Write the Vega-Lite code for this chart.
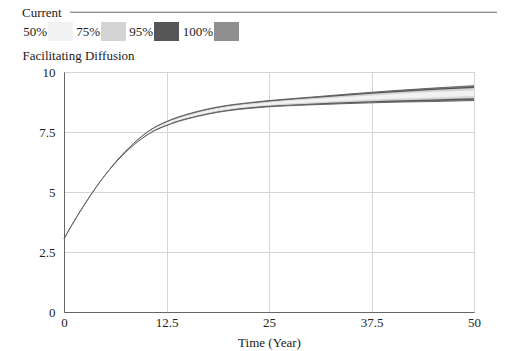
{
  "$schema": "https://vega.github.io/schema/vega-lite/v6.json",
  "width": 410,
  "height": 240,
  "autosize": "none",
  "padding": {"left": 64, "top": 72, "right": 31, "bottom": 39},
  "background": "white",
  "title": {"text": "Current", "anchor": "start", "frame": "group", "font": "Liberation Serif", "fontSize": 13, "fontWeight": "normal", "color": "#222", "dx": -42, "offset": -8},
  "config": {
    "font": "Liberation Serif",
    "view": {"stroke": "#666", "strokeWidth": 1},
    "axis": {
      "labelFont": "Liberation Serif", "labelFontSize": 13, "labelColor": "#222",
      "titleFont": "Liberation Serif", "titleFontSize": 13, "titleColor": "#222", "titleFontWeight": "normal",
      "ticks": false, "domainColor": "#666", "gridColor": "#d6d6d6", "gridWidth": 1
    },
    "legend": {
      "orient": "none", "legendX": -16, "legendY": -53, "direction": "horizontal",
      "labelFont": "Liberation Serif", "labelFontSize": 13, "labelColor": "#222", "labelAlign": "right", "labelOffset": -26,
      "symbolType": "M-1,-0.76H1V0.76H-1Z", "symbolSize": 625, "symbolStrokeWidth": 0, "symbolOpacity": 1,
      "columnPadding": 3
    }
  },
  "datasets": {
    "bands": [
      {"t":0,"b":"100%","lo":3.05,"hi":3.05},{"t":0,"b":"95%","lo":3.05,"hi":3.05},{"t":0,"b":"75%","lo":3.05,"hi":3.05},{"t":0,"b":"50%","lo":3.05,"hi":3.05},
      {"t":1,"b":"100%","lo":3.65,"hi":3.65},{"t":1,"b":"95%","lo":3.65,"hi":3.65},{"t":1,"b":"75%","lo":3.65,"hi":3.65},{"t":1,"b":"50%","lo":3.65,"hi":3.65},
      {"t":2,"b":"100%","lo":4.21,"hi":4.21},{"t":2,"b":"95%","lo":4.21,"hi":4.21},{"t":2,"b":"75%","lo":4.21,"hi":4.21},{"t":2,"b":"50%","lo":4.21,"hi":4.21},
      {"t":3,"b":"100%","lo":4.74,"hi":4.74},{"t":3,"b":"95%","lo":4.74,"hi":4.74},{"t":3,"b":"75%","lo":4.74,"hi":4.74},{"t":3,"b":"50%","lo":4.74,"hi":4.74},
      {"t":4,"b":"100%","lo":5.24,"hi":5.24},{"t":4,"b":"95%","lo":5.24,"hi":5.24},{"t":4,"b":"75%","lo":5.24,"hi":5.24},{"t":4,"b":"50%","lo":5.24,"hi":5.24},
      {"t":5,"b":"100%","lo":5.7,"hi":5.7},{"t":5,"b":"95%","lo":5.7,"hi":5.7},{"t":5,"b":"75%","lo":5.7,"hi":5.7},{"t":5,"b":"50%","lo":5.7,"hi":5.7},
      {"t":6,"b":"100%","lo":6.11,"hi":6.13},{"t":6,"b":"95%","lo":6.111,"hi":6.129},{"t":6,"b":"75%","lo":6.113,"hi":6.127},{"t":6,"b":"50%","lo":6.116,"hi":6.124},
      {"t":7,"b":"100%","lo":6.48,"hi":6.52},{"t":7,"b":"95%","lo":6.482,"hi":6.518},{"t":7,"b":"75%","lo":6.486,"hi":6.514},{"t":7,"b":"50%","lo":6.492,"hi":6.508},
      {"t":8,"b":"100%","lo":6.81,"hi":6.87},{"t":8,"b":"95%","lo":6.813,"hi":6.867},{"t":8,"b":"75%","lo":6.819,"hi":6.861},{"t":8,"b":"50%","lo":6.828,"hi":6.852},
      {"t":9,"b":"100%","lo":7.095,"hi":7.185},{"t":9,"b":"95%","lo":7.1,"hi":7.18},{"t":9,"b":"75%","lo":7.109,"hi":7.171},{"t":9,"b":"50%","lo":7.122,"hi":7.158},
      {"t":10,"b":"100%","lo":7.34,"hi":7.46},{"t":10,"b":"95%","lo":7.346,"hi":7.454},{"t":10,"b":"75%","lo":7.358,"hi":7.442},{"t":10,"b":"50%","lo":7.376,"hi":7.424},
      {"t":11,"b":"100%","lo":7.55,"hi":7.69},{"t":11,"b":"95%","lo":7.557,"hi":7.683},{"t":11,"b":"75%","lo":7.571,"hi":7.669},{"t":11,"b":"50%","lo":7.592,"hi":7.648},
      {"t":12,"b":"100%","lo":7.7,"hi":7.86},{"t":12,"b":"95%","lo":7.708,"hi":7.852},{"t":12,"b":"75%","lo":7.724,"hi":7.836},{"t":12,"b":"50%","lo":7.748,"hi":7.812},
      {"t":13,"b":"100%","lo":7.83,"hi":8.01},{"t":13,"b":"95%","lo":7.839,"hi":8.001},{"t":13,"b":"75%","lo":7.857,"hi":7.983},{"t":13,"b":"50%","lo":7.884,"hi":7.956},
      {"t":14,"b":"100%","lo":7.945,"hi":8.135},{"t":14,"b":"95%","lo":7.955,"hi":8.125},{"t":14,"b":"75%","lo":7.974,"hi":8.106},{"t":14,"b":"50%","lo":8.002,"hi":8.078},
      {"t":15,"b":"100%","lo":8.04,"hi":8.24},{"t":15,"b":"95%","lo":8.05,"hi":8.23},{"t":15,"b":"75%","lo":8.07,"hi":8.21},{"t":15,"b":"50%","lo":8.1,"hi":8.18},
      {"t":17.5,"b":"100%","lo":8.24,"hi":8.46},{"t":17.5,"b":"95%","lo":8.251,"hi":8.449},{"t":17.5,"b":"75%","lo":8.273,"hi":8.427},{"t":17.5,"b":"50%","lo":8.306,"hi":8.394},
      {"t":20,"b":"100%","lo":8.385,"hi":8.615},{"t":20,"b":"95%","lo":8.397,"hi":8.603},{"t":20,"b":"75%","lo":8.42,"hi":8.58},{"t":20,"b":"50%","lo":8.454,"hi":8.546},
      {"t":22.5,"b":"100%","lo":8.48,"hi":8.72},{"t":22.5,"b":"95%","lo":8.492,"hi":8.708},{"t":22.5,"b":"75%","lo":8.516,"hi":8.684},{"t":22.5,"b":"50%","lo":8.552,"hi":8.648},
      {"t":25,"b":"100%","lo":8.55,"hi":8.81},{"t":25,"b":"95%","lo":8.563,"hi":8.797},{"t":25,"b":"75%","lo":8.589,"hi":8.771},{"t":25,"b":"50%","lo":8.628,"hi":8.732},
      {"t":30,"b":"100%","lo":8.63,"hi":8.95},{"t":30,"b":"95%","lo":8.646,"hi":8.934},{"t":30,"b":"75%","lo":8.678,"hi":8.902},{"t":30,"b":"50%","lo":8.726,"hi":8.854},
      {"t":35,"b":"100%","lo":8.69,"hi":9.09},{"t":35,"b":"95%","lo":8.71,"hi":9.07},{"t":35,"b":"75%","lo":8.75,"hi":9.03},{"t":35,"b":"50%","lo":8.81,"hi":8.97},
      {"t":40,"b":"100%","lo":8.74,"hi":9.22},{"t":40,"b":"95%","lo":8.764,"hi":9.196},{"t":40,"b":"75%","lo":8.812,"hi":9.148},{"t":40,"b":"50%","lo":8.884,"hi":9.076},
      {"t":45,"b":"100%","lo":8.77,"hi":9.33},{"t":45,"b":"95%","lo":8.798,"hi":9.302},{"t":45,"b":"75%","lo":8.854,"hi":9.246},{"t":45,"b":"50%","lo":8.938,"hi":9.162},
      {"t":50,"b":"100%","lo":8.81,"hi":9.43},{"t":50,"b":"95%","lo":8.841,"hi":9.399},{"t":50,"b":"75%","lo":8.903,"hi":9.337},{"t":50,"b":"50%","lo":8.996,"hi":9.244}
    ]
  },
  "layer": [
    {
      "data": {"name": "bands"},
      "encoding": {
        "x": {"field": "t", "type": "quantitative",
          "scale": {"domain": [0, 50], "nice": false, "zero": false},
          "axis": {"values": [0, 12.5, 25, 37.5, 50], "format": ".1~f", "title": "Time (Year)", "labelPadding": 4, "labelFlush": false,
            "titleY": 34, "titleBaseline": "alphabetic"}},
        "y": {"field": "lo", "type": "quantitative",
          "scale": {"domain": [0, 10], "nice": false, "zero": false},
          "axis": {"values": [0, 2.5, 5, 7.5, 10], "format": ".1~f", "title": "Facilitating Diffusion", "labelPadding": 9,
            "titleAngle": 0, "titleAlign": "left", "titleBaseline": "alphabetic", "titleX": -42, "titleY": -13}}
      },
      "layer": [
        {"transform": [{"filter": "datum.b === '100%'"}],
         "mark": {"type": "area", "interpolate": "monotone", "opacity": 1},
         "encoding": {"y2": {"field": "hi"},
           "color": {"field": "b", "type": "nominal", "title": null,
             "scale": {"domain": ["50%", "75%", "95%", "100%"], "range": ["#f2f2f2", "#d4d4d4", "#565656", "#8f8f8f"]}}}},
        {"transform": [{"filter": "datum.b === '95%'"}],
         "mark": {"type": "area", "interpolate": "monotone", "opacity": 1},
         "encoding": {"y2": {"field": "hi"}, "color": {"field": "b", "type": "nominal", "title": null}}},
        {"transform": [{"filter": "datum.b === '75%'"}],
         "mark": {"type": "area", "interpolate": "monotone", "opacity": 1},
         "encoding": {"y2": {"field": "hi"}, "color": {"field": "b", "type": "nominal", "title": null}}},
        {"transform": [{"filter": "datum.b === '50%'"}],
         "mark": {"type": "area", "interpolate": "monotone", "opacity": 1},
         "encoding": {"y2": {"field": "hi"}, "color": {"field": "b", "type": "nominal", "title": null}}},
        {"transform": [{"filter": "datum.b === '100%'"}],
         "mark": {"type": "line", "interpolate": "monotone", "color": "#5a5a5a", "strokeWidth": 0.9},
         "encoding": {}},
        {"transform": [{"filter": "datum.b === '100%'"}],
         "mark": {"type": "line", "interpolate": "monotone", "color": "#5a5a5a", "strokeWidth": 0.9},
         "encoding": {"y": {"field": "hi", "type": "quantitative"}}}
      ]
    },
    {
      "data": {"values": [{"item": "Current"}]},
      "mark": {"type": "rule", "color": "#666", "strokeWidth": 1, "clip": false},
      "encoding": {"x": {"datum": 0.75, "type": "quantitative"}, "x2": {"datum": 52.8}, "y": {"datum": 12.49, "type": "quantitative"}}
    }
  ]
}
